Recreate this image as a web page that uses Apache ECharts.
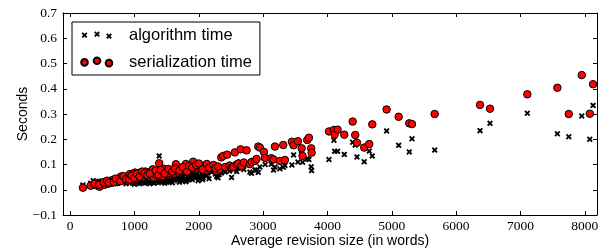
<!DOCTYPE html>
<html lang="en">
<head>
    <meta charset="UTF-8">
    <title>ECharts</title>
    <script src="https://cdn.jsdelivr.net/npm/echarts@6/dist/echarts.min.js"></script>
    <style type="text/css">
        *{margin: 0;padding: 0;border: none}
        html,body{width: 100%;height: 100%;overflow: hidden;background: #fff}
        #main{width: 601px;height: 251px}
    </style>
</head>
<body>
<div id="main"></div>
<script type="text/javascript">
    // average revision size (words), one entry per page
    var revWords = [200, 360, 400, 430, 460, 490, 510, 540, 560, 590, 620, 640, 660, 690, 720, 740, 760, 790, 810, 840,
        860, 880, 900, 930, 950, 970, 990, 1010, 1030, 1050, 1070, 1090, 1110, 1130, 1150, 1170, 1190, 1210, 1230, 1250,
        1270, 1285, 1300, 1320, 1345, 1365, 1385, 1400, 1420, 1440, 1455, 1480, 1500, 1520, 1540, 1560, 1580, 1600, 1620, 1645,
        1670, 1690, 1710, 1735, 1760, 1780, 1800, 1830, 1860, 1885, 1913, 1940, 1965, 1991, 2020, 2045, 2068, 2090, 2110, 2140,
        2173, 2200, 2277, 2317, 2350, 2380, 2410, 2442, 2480, 2510, 2535, 2561, 2590, 2613, 2650, 2666, 2700, 2743, 2795, 2821,
        2874, 2899, 2925, 2950, 3012, 3033, 3126, 3163, 3184, 3261, 3313, 3339, 3448, 3474, 3541, 3599, 3614, 3686, 3712, 3748,
        3754, 4024, 4101, 4112, 4158, 4262, 4392, 4432, 4459, 4572, 4650, 4697, 4920, 5107, 5272, 5314, 5667, 6372, 6527, 7107,
        7574, 7751, 7953, 8078, 8129,
        320, 380, 450, 520, 575, 605, 680, 710, 780, 830, 870, 920, 960, 1000, 1040, 1080, 1120, 1160, 1200, 1240,
        1330, 1375, 1410, 1470, 1530, 1590, 1630, 1700, 1750, 1820, 1850, 1900, 1960, 2000, 2060, 2125, 2160, 2230, 2260, 2300];
    var algoTime = [0.019, 0.036, 0.030, 0.022, 0.028, 0.034, 0.024, 0.030, 0.036, 0.026, 0.033, 0.029, 0.038, 0.030, 0.040, 0.028, 0.036, 0.045, 0.034, 0.030,
        0.040, 0.028, 0.035, 0.044, 0.032, 0.026, 0.048, 0.040, 0.030, 0.028, 0.045, 0.052, 0.036, 0.030, 0.042, 0.050, 0.028, 0.038, 0.034, 0.046,
        0.030, 0.055, 0.026, 0.040, 0.032, 0.048, 0.134, 0.036, 0.030, 0.050, 0.042, 0.038, 0.030, 0.046, 0.039, 0.034, 0.050, 0.042, 0.036, 0.055,
        0.044, 0.040, 0.048, 0.038, 0.052, 0.044, 0.032, 0.050, 0.042, 0.058, 0.060, 0.046, 0.052, 0.036, 0.056, 0.062, 0.048, 0.064, 0.054, 0.066,
        0.081, 0.070, 0.052, 0.060, 0.066, 0.078, 0.070, 0.085, 0.074, 0.049, 0.080, 0.090, 0.072, 0.085, 0.111, 0.094, 0.080, 0.100, 0.070, 0.065,
        0.078, 0.078, 0.069, 0.090, 0.126, 0.100, 0.101, 0.078, 0.090, 0.083, 0.089, 0.096, 0.098, 0.138, 0.110, 0.142, 0.109, 0.123, 0.120, 0.091,
        0.076, 0.120, 0.196, 0.152, 0.152, 0.140, 0.188, 0.177, 0.130, 0.111, 0.153, 0.134, 0.233, 0.176, 0.150, 0.202, 0.157, 0.234, 0.263, 0.303,
        0.222, 0.210, 0.292, 0.200, 0.334,
        0.026, 0.020, 0.034, 0.020, 0.028, 0.040, 0.024, 0.034, 0.030, 0.042, 0.024, 0.030, 0.040, 0.022, 0.036, 0.024, 0.044, 0.026, 0.048, 0.024,
        0.044, 0.028, 0.052, 0.026, 0.032, 0.028, 0.046, 0.030, 0.034, 0.038, 0.054, 0.040, 0.064, 0.046, 0.040, 0.058, 0.044, 0.074, 0.062, 0.048];
    var serialTime = [0.008, 0.019, 0.022, 0.016, 0.012, 0.027, 0.025, 0.020, 0.030, 0.024, 0.032, 0.027, 0.039, 0.034, 0.036, 0.030, 0.041, 0.052, 0.044, 0.038,
        0.048, 0.036, 0.045, 0.062, 0.050, 0.040, 0.065, 0.068, 0.055, 0.048, 0.058, 0.068, 0.060, 0.050, 0.064, 0.072, 0.056, 0.062, 0.052, 0.070,
        0.060, 0.081, 0.049, 0.066, 0.058, 0.072, 0.105, 0.064, 0.055, 0.054, 0.083, 0.070, 0.062, 0.074, 0.060, 0.066, 0.078, 0.070, 0.064, 0.101,
        0.076, 0.068, 0.080, 0.072, 0.084, 0.074, 0.102, 0.078, 0.086, 0.082, 0.111, 0.090, 0.080, 0.083, 0.088, 0.092, 0.095, 0.084, 0.076, 0.090,
        0.086, 0.094, 0.074, 0.080, 0.128, 0.134, 0.090, 0.139, 0.096, 0.088, 0.090, 0.148, 0.100, 0.104, 0.160, 0.094, 0.108, 0.156, 0.101, 0.110,
        0.114, 0.122, 0.171, 0.167, 0.150, 0.126, 0.125, 0.120, 0.171, 0.114, 0.177, 0.118, 0.190, 0.176, 0.192, 0.164, 0.134, 0.197, 0.206, 0.164,
        0.147, 0.231, 0.237, 0.219, 0.238, 0.218, 0.270, 0.217, 0.186, 0.167, 0.181, 0.259, 0.318, 0.289, 0.263, 0.260, 0.300, 0.336, 0.321, 0.378,
        0.404, 0.300, 0.454, 0.301, 0.418,
        0.016, 0.024, 0.020, 0.030, 0.036, 0.028, 0.030, 0.044, 0.034, 0.054, 0.042, 0.040, 0.056, 0.046, 0.064, 0.052, 0.072, 0.066, 0.058, 0.064,
        0.076, 0.060, 0.078, 0.064, 0.082, 0.072, 0.084, 0.076, 0.090, 0.072, 0.094, 0.088, 0.098, 0.104, 0.080, 0.102, 0.088, 0.098, 0.086, 0.092];
    var xTicks = [0, 1000, 2000, 3000, 4000, 5000, 6000, 7000, 8000];
    var yTicks = [-0.1, 0.0, 0.1, 0.2, 0.3, 0.4, 0.5, 0.6, 0.7];
    var seriesNames = ['algorithm time', 'serialization time'];

    // filled "x" marker and legend glyphs (three markers, like matplotlib scatterpoints=3)
    function crossPath(cx, cy, h, t) {
        var p = [[cx - h, cy - h + t], [cx - h + t, cy - h], [cx, cy - t], [cx + h - t, cy - h], [cx + h, cy - h + t], [cx + t, cy],
            [cx + h, cy + h - t], [cx + h - t, cy + h], [cx, cy + t], [cx - h + t, cy + h], [cx - h, cy + h - t], [cx - t, cy]];
        return 'M' + p.map(function (q) { return q[0] + ',' + q[1]; }).join(' L') + ' Z ';
    }
    function circlePath(cx, cy, r) {
        return 'M' + (cx - r) + ',' + cy + ' a' + r + ',' + r + ' 0 1,0 ' + (2 * r) + ',0 a' + r + ',' + r + ' 0 1,0 ' + (-2 * r) + ',0 Z ';
    }
    var crossSymbol = 'path://' + crossPath(5, 5, 5, 2.2);
    var crossIcon = 'path://M0,0 ' + crossPath(4.5, 5.2, 2.9, 1.3) + crossPath(17, 4.2, 2.9, 1.3) + crossPath(29, 6.2, 2.9, 1.3) + 'M44,10';
    var circleIcon = 'path://M0,0 ' + circlePath(4.5, 5.4, 3.3) + circlePath(17, 3.8, 3.3) + circlePath(29, 6.1, 3.3) + 'M44,10';

    function pairs(ys) {
        return revWords.map(function (w, i) { return [w, ys[i]]; });
    }
    function fmtY(v) {
        v = Math.round(v * 10) / 10;
        return v < 0 ? '\u2212' + (-v).toFixed(1) : v.toFixed(1);
    }
    function fmtX(v) {
        return String(Math.round(v));
    }

    var myChart = echarts.init(document.getElementById('main'), null, {renderer: 'canvas'});
    var option = {
        animation: false,
        backgroundColor: '#fff',
        grid: {left: 63, right: 4, top: 13, bottom: 36, outerBoundsMode: 'none', containLabel: false},
        legend: {
            orient: 'vertical',
            left: 72,
            top: 22,
            padding: [4.5, 8, 4.5, 7],
            itemGap: 10,
            itemWidth: 44,
            itemHeight: 10,
            borderColor: '#000',
            borderWidth: 1,
            borderRadius: 0,
            backgroundColor: '#fff',
            textStyle: {fontFamily: 'Liberation Sans', fontSize: 16.5, lineHeight: 16, color: '#000'},
            data: [
                {name: seriesNames[0], icon: crossIcon},
                {name: seriesNames[1], icon: circleIcon}
            ]
        },
        xAxis: [{
            type: 'value',
            min: -110,
            max: 8190,
            name: 'Average revision size (in words)',
            nameLocation: 'middle',
            nameGap: 19,
            nameMoveOverlap: false,
            nameTextStyle: {fontFamily: 'Liberation Sans', fontSize: 14, color: '#000'},
            axisLine: {onZero: false, lineStyle: {color: '#000', width: 1}},
            axisTick: {inside: true, length: 4, lineStyle: {color: '#000'}, customValues: xTicks},
            axisLabel: {margin: 4, customValues: xTicks, formatter: fmtX, fontFamily: 'Liberation Serif', fontSize: 13.5, color: '#000'},
            splitLine: {show: false}
        }, {
            type: 'value',
            position: 'top',
            min: -110,
            max: 8190,
            axisLine: {onZero: false, lineStyle: {color: '#000', width: 1}},
            axisTick: {inside: true, length: 4, lineStyle: {color: '#000'}, customValues: xTicks},
            axisLabel: {show: false},
            splitLine: {show: false}
        }],
        yAxis: [{
            type: 'value',
            min: -0.1,
            max: 0.7,
            name: 'Seconds',
            nameLocation: 'middle',
            nameGap: 33,
            nameMoveOverlap: false,
            nameTextStyle: {fontFamily: 'Liberation Sans', fontSize: 14, color: '#000'},
            axisLine: {show: true, onZero: false, lineStyle: {color: '#000', width: 1}},
            axisTick: {show: true, inside: true, length: 4, lineStyle: {color: '#000'}, customValues: yTicks},
            axisLabel: {margin: 6, customValues: yTicks, formatter: fmtY, fontFamily: 'Liberation Serif', fontSize: 13.5, color: '#000'},
            splitLine: {show: false}
        }, {
            type: 'value',
            position: 'right',
            min: -0.1,
            max: 0.7,
            axisLine: {show: true, onZero: false, lineStyle: {color: '#000', width: 1}},
            axisTick: {show: true, inside: true, length: 4, lineStyle: {color: '#000'}, customValues: yTicks},
            axisLabel: {show: false},
            splitLine: {show: false}
        }],
        series: [
            {
                name: seriesNames[0],
                type: 'scatter',
                symbol: crossSymbol,
                symbolSize: 6,
                itemStyle: {color: '#000', opacity: 1},
                z: 2,
                data: pairs(algoTime)
            },
            {
                name: seriesNames[1],
                type: 'scatter',
                symbol: 'circle',
                symbolSize: 7.5,
                itemStyle: {color: '#ff0000', borderColor: '#000', borderWidth: 1, opacity: 1},
                z: 3,
                data: pairs(serialTime)
            }
        ]
    };
    myChart.setOption(option);
</script>
</body>
</html>
